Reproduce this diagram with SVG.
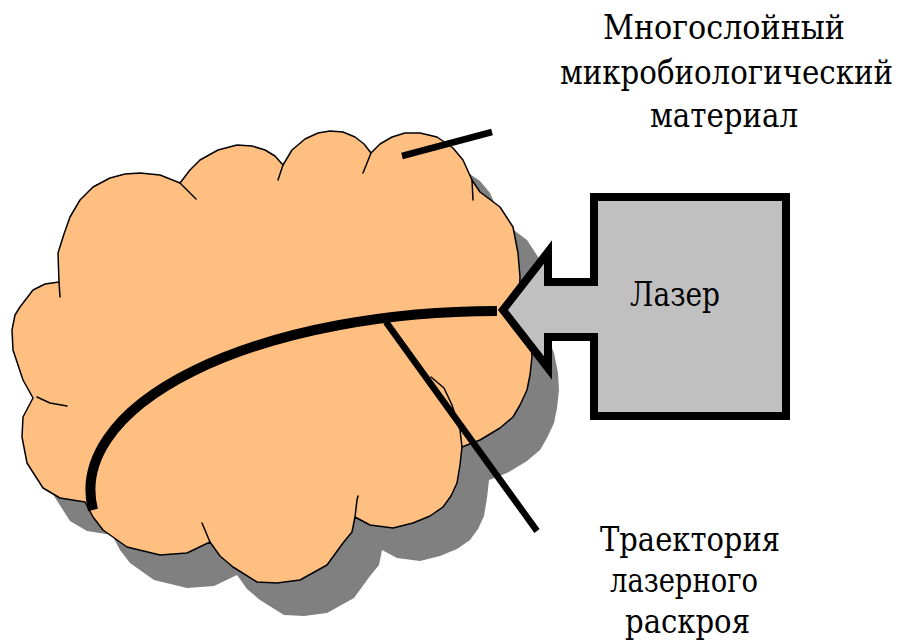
<svg xmlns="http://www.w3.org/2000/svg" xmlns:xlink="http://www.w3.org/1999/xlink" width="898" height="643" viewBox="0 0 898 643">
  <style>
    .label { font-family: "DejaVu Serif Condensed", "DejaVu Serif", serif; font-stretch: condensed; font-size: 33px; fill: #000; text-anchor: middle; }
    .cloud { fill: #FFBF80; stroke: #000; stroke-width: 1.5; stroke-linejoin: round; }
    .shadow { fill: #808080; stroke: none; }
    .tick { fill: none; stroke: #000; stroke-width: 1.5; stroke-linecap: round; stroke-linejoin: round; }
    .leader { fill: none; stroke: #000; stroke-width: 6.5; stroke-linecap: butt; }
    .path-cut { fill: none; stroke: #000; stroke-width: 10; stroke-linecap: butt; }
    .laser { fill: #C0C0C0; stroke: #000; stroke-width: 8; stroke-linejoin: miter; stroke-miterlimit: 10; }
  </style>
  <defs>
    <path id="cloudShape" d="M59,282 L58,253 L64,234 L70,217 L80,200 L93,187 L110,178 L125,174 L140,173 L160,175 L180,183 L190,170 L200,160 L218,150 L237,145 L252,146 L265,150 L275,156 L283,165 L292,150 L305,139 L318,133 L330,131 L343,132 L355,137 L364,144 L371,153 L380,144 L392,137 L405,133 L420,133 L437,137 L453,148 L463,160 L472,180 L480,192 L500,207 L513,227 L518,253 L520,277 L519,300 L527,320 L531,340 L532,357 L530,375 L527,390 L520,405 L513,417 L500,428 L480,440 L462,447 L460,465 L457,483 L451,496 L443,507 L430,516 L413,523 L393,528 L370,525 L355,517 L352,532 L343,543 L327,565 L300,580 L277,583 L257,582 L233,567 L220,556 L210,542 L187,553 L160,555 L127,547 L103,530 L93,517 L85,502 L60,498 L43,488 L27,463 L22,437 L23,417 L33,398 L23,380 L13,350 L12,330 L15,315 L20,307 L33,290 L45,284 Z"/>
  </defs>

  <!-- multilayer material: cloud with drop shadow -->
  <g id="material">
    <use xlink:href="#cloudShape" class="shadow" transform="translate(27,33)"/>
    <use xlink:href="#cloudShape" class="cloud"/>
    <!-- inner arcs where the cloud lobes meet -->
    <path class="tick" d="M59,282 L60,297"/>
    <path class="tick" d="M180,183 L196,199"/>
    <path class="tick" d="M283,165 L278,180"/>
    <path class="tick" d="M371,153 L363,173"/>
    <path class="tick" d="M472,180 L473,200"/>
    <path class="tick" d="M462,447 L460,430 L452,405 L444,388 L431,377"/>
    <path class="tick" d="M355,517 L357,500 L358,496"/>
    <path class="tick" d="M210,542 L202,523"/>
    <path class="tick" d="M37,397 L50,403 L67,406"/>
  </g>

  <!-- cutting trajectory and label leaders -->
  <g id="connectors">
    <path class="path-cut" d="M93,510 A407,179 0 0 1 497,311"/>
    <line class="leader" x1="402" y1="156" x2="492" y2="132"/>
    <line class="leader" x1="386" y1="322" x2="537" y2="531"/>
  </g>

  <!-- laser: box with arrow pointing at the material -->
  <g id="laser">
    <polygon class="laser" points="503,310 548,252 548,282 594,282 594,197 786,197 786,416 594,416 594,337 548,337 548,368"/>
    <text class="label" x="675" y="306" textLength="90" lengthAdjust="spacingAndGlyphs">Лазер</text>
  </g>

  <g id="label-material">
    <text class="label" x="724" y="39" textLength="242" lengthAdjust="spacingAndGlyphs">Многослойный</text>
    <text class="label" x="726.5" y="84" textLength="333" lengthAdjust="spacingAndGlyphs">микробиологический</text>
    <text class="label" x="724" y="127" textLength="148" lengthAdjust="spacingAndGlyphs">материал</text>
  </g>

  <g id="label-trajectory">
    <text class="label" x="690" y="551" textLength="180" lengthAdjust="spacingAndGlyphs">Траектория</text>
    <text class="label" x="684" y="592" textLength="148" lengthAdjust="spacingAndGlyphs">лазерного</text>
    <text class="label" x="687.5" y="633" textLength="125" lengthAdjust="spacingAndGlyphs">раскроя</text>
  </g>
</svg>
